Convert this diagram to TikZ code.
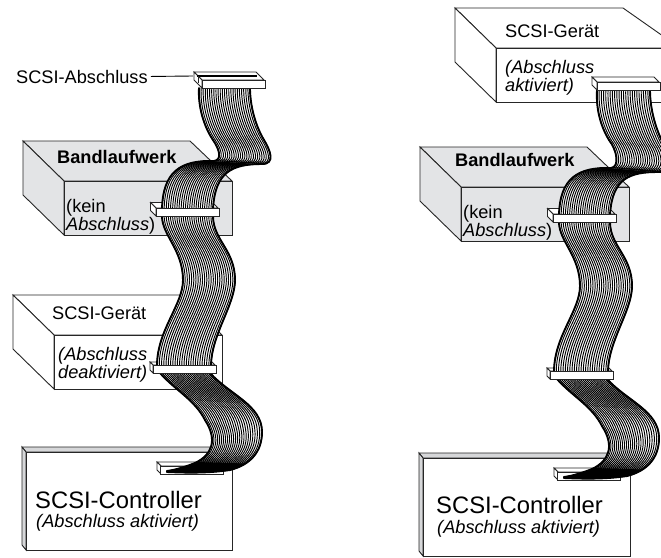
\documentclass[tikz,border=0pt]{standalone}
\usepackage{fontspec}
\setmainfont{Liberation Sans}
\usetikzlibrary{calc}
\definecolor{bandgray}{HTML}{E3E4E6}
\definecolor{bevelgray}{HTML}{D6D7D9}
\tikzset{
  lbl/.style={inner sep=0pt,anchor=base west,font=\fontsize{18.2}{18.2}\selectfont},
  lblbig/.style={inner sep=0pt,anchor=base west,font=\fontsize{23.8}{24}\selectfont},
  boxline/.style={draw=black!85,line width=0.9pt,line join=miter},
  wire/.style={black,line width=0.95pt,line cap=round},
  ribedge/.style={black,line width=1.9pt,line cap=round},
  connbody/.style={draw=black!85,fill=white,line width=0.8pt,line join=miter},
  leader/.style={black,line width=0.9pt}
}
% one Bezier stretch of ribbon: left edge #1-#4, right edge #5-#8
\newcommand{\ribseg}[8]{%
  \fill[white] #1 .. controls #2 and #3 .. #4 -- #8 .. controls #7 and #6 .. #5 -- cycle;
  \foreach \t in {0,0.0417,...,1.01}{%
    \draw[wire] ($#1!\t!#5$) .. controls ($#2!\t!#6$) and ($#3!\t!#7$) .. ($#4!\t!#8$);}
  \draw[ribedge] #1 .. controls #2 and #3 .. #4;
  \draw[ribedge] #5 .. controls #6 and #7 .. #8;
}
\newcommand{\connback}[3]{% front-top-left x,y, depth
  \begin{scope}[shift={(#1,#2)}]
    \path[connbody] (-#3,-#3) -- ({62-#3},-#3) -- (62,0) -- (0,0) -- cycle;
    \path[connbody] (-#3,-#3) -- (0,0) -- (0,8) -- (-#3,{8-#3}) -- cycle;
  \end{scope}}
\newcommand{\connfront}[2]{%
  \path[connbody] (#1,#2) rectangle ({#1+63},{#2+8});}
\newcommand{\termstrip}[2]{%
  \draw[black,line width=1.1pt] ({#1-5},{#2-4}) -- ({#1+55},{#2-4});
  \draw[black!85,line width=0.7pt] ({#1-4},{#2-4}) -- ({#1-4},{#2+3});}
\newcommand{\gearbox}[5]{% top-left x,y, top right x, front right x, fill
  \path[boxline,fill=#5] (#1,#2) -- (#3,#2) -- ({#4},{#2+40}) -- ({#1+41},{#2+40}) -- cycle;
  \path[boxline,fill=#5] (#1,#2) -- ({#1+41},{#2+40}) -- ({#1+41},{#2+94}) -- (#1,{#2+54}) -- cycle;
  \path[boxline,fill=#5] ({#1+41},{#2+40}) rectangle ({#4},{#2+94});}
\newcommand{\ctrlbox}[4]{% outer left x, top y, right x, bottom y
  \path[boxline,fill=bevelgray] (#1,#2) -- ({#3-5},#2) -- (#3,{#2+5}) -- ({#1+4},{#2+5}) -- cycle;
  \path[boxline,fill=bevelgray] (#1,#2) -- ({#1+4},{#2+5}) -- ({#1+4},#4) -- (#1,{#4-5}) -- cycle;
  \path[boxline,fill=white] ({#1+4},{#2+5}) rectangle (#3,#4);}
\newcommand{\lowerfold}{%
  \ribseg{(160,373)}{(175,390)}{(195,400)}{(205,420)}{(210,373)}{(230,395)}{(262,405)}{(262,432)}
  \ribseg{(205,420)}{(218,440)}{(212,455)}{(195,463)}{(262,432)}{(262,452)}{(250,465)}{(230,470)}
  \ribseg{(195,463)}{(185,467)}{(175,470)}{(167,471)}{(230,470)}{(210,473)}{(190,473)}{(167,472)}
  \fill[black] (167,471.5) .. controls (178,470.5) and (188,467) .. (196,462) -- (246,463.5) .. controls (240,467) and (235,469) .. (230,470) .. controls (210,473) and (190,473) .. (167,472) -- cycle;
}
\newcommand{\middlerun}{%
  \ribseg{(183,280)}{(183,305)}{(157,330)}{(157,366)}{(235,280)}{(235,305)}{(211,335)}{(211,366)}
  \ribseg{(162,216)}{(162,235)}{(183,250)}{(183,280)}{(213,216)}{(213,240)}{(235,250)}{(235,280)}
}
\begin{document}
\begin{tikzpicture}[x=1pt,y=-1pt]
\useasboundingbox (0,0) rectangle (661,557);
\clip (0,0) rectangle (661,557);
\fill[white] (0,0) rectangle (661,557);

%%% LEFT FIGURE
\ctrlbox{22}{447}{232}{550}
\gearbox{13}{295}{180}{222}{white}
\gearbox{23}{141}{190}{232}{bandgray}
\node[lbl] (geraetL) at (52,319) {SCSI-Gerät};
\node[lbl] (geraetLa) at (58,360) {\itshape (Abschluss};
\node[lbl] (geraetLb) at (58,378) {\itshape deaktiviert)};
\node[lbl] (bandL) at (57,163) {\bfseries Bandlaufwerk};
\node[lbl] (keinLa) at (66,212) {(kein};
\node[lbl] (keinLb) at (66,230) {\itshape Abschluss\upshape)};
\node[lblbig] (ctrlL) at (35,508) {SCSI-Controller};
\node[lbl] (ctrlLa) at (36,527) {\itshape (Abschluss aktiviert)};
\node[lbl] (termL) at (16,83) {SCSI-Abschluss};
\coordinate (termLend) at (193,76);
\draw[leader,shorten <=3pt] (termL.east) -- (termLend);
% ribbon, bottom to top
\connback{161}{466}{4}\connfront{160}{466}
\lowerfold
\connback{153}{365}{3}
\middlerun
\connfront{153}{365}
\connback{156}{208}{5.5}
\ribseg{(214,161)}{(180,160)}{(163,172)}{(162,209)}{(262,164)}{(232,164)}{(215,172)}{(213,209)}
\ribseg{(199,88)}{(198,105)}{(203,125)}{(213,140)}{(250,88)}{(250,105)}{(255,125)}{(264,140)}
\ribseg{(213,140)}{(220,150)}{(222,160)}{(214,161)}{(264,140)}{(270,150)}{(276,164)}{(262,164)}
\connfront{156}{208}
\connback{202}{80}{8}\termstrip{202}{80}\connfront{202}{80}

%%% RIGHT FIGURE
\begin{scope}[shift={(397,6)}]
\ctrlbox{22}{447}{233}{550}
\gearbox{23}{141}{190}{232}{bandgray}
\end{scope}
\gearbox{455}{8}{623}{680}{white}
\node[lbl] (geraetR) at (505,37) {SCSI-Gerät};
\node[lbl] (geraetRa) at (505,73) {\itshape (Abschluss};
\node[lbl] (geraetRb) at (505,91) {\itshape aktiviert)};
\node[lbl] (bandR) at (455,166) {\bfseries Bandlaufwerk};
\node[lbl] (keinRa) at (463,218) {(kein};
\node[lbl] (keinRb) at (463,236) {\itshape Abschluss\upshape)};
\node[lblbig] (ctrlR) at (436,513) {SCSI-Controller};
\node[lbl] (ctrlRa) at (437,533) {\itshape (Abschluss aktiviert)};
\begin{scope}[shift={(397,6)}]
\connback{161}{466}{4}\connfront{160}{466}
\lowerfold
\connback{153}{365}{3}
\middlerun
\connfront{153}{365}
\connback{156}{208}{5.5}
\end{scope}
\ribseg{(611,168)}{(578,167)}{(560,178)}{(559,215)}{(658,172)}{(630,172)}{(612,178)}{(610,215)}
\ribseg{(597,90)}{(596,108)}{(600,125)}{(609,140)}{(650,90)}{(650,108)}{(655,128)}{(664,145)}
\ribseg{(609,140)}{(617,150)}{(620,167)}{(611,168)}{(664,145)}{(671,155)}{(675,172)}{(658,172)}
\begin{scope}[shift={(397,6)}]
\connfront{156}{208}
\end{scope}
\connback{597}{82}{5}\connfront{597}{82}
\end{tikzpicture}
\end{document}
